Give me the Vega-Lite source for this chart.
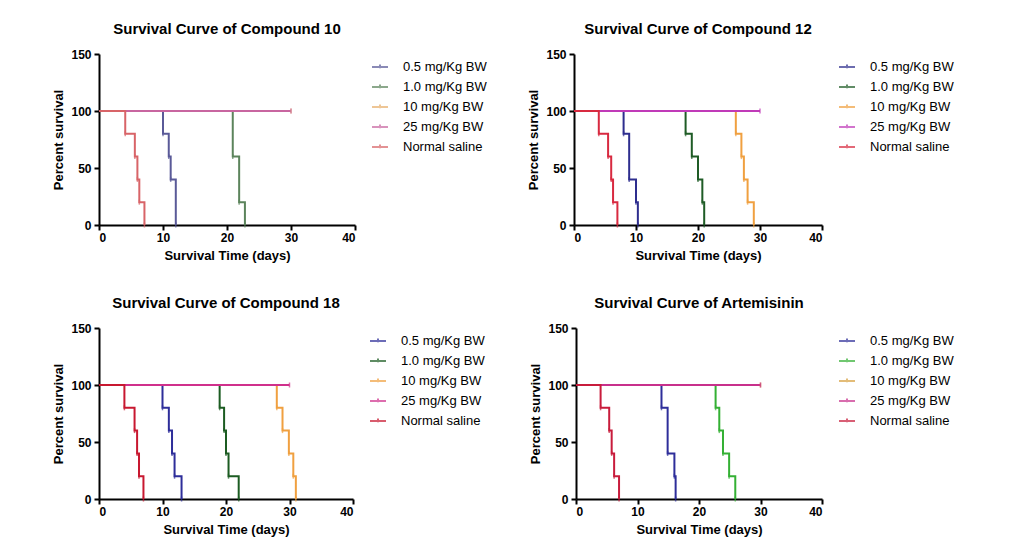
{
  "$schema": "https://vega.github.io/schema/vega-lite/v6.json",
  "background": "white",
  "padding": {"left": 52, "top": 22, "right": 5, "bottom": 5},
  "spacing": 34,
  "config": {
    "font": "Liberation Sans",
    "view": {"stroke": null},
    "title": {"fontSize": 15, "fontWeight": "bold", "color": "black", "anchor": "middle", "offset": 11},
    "axis": {"grid": false, "domainColor": "black", "domainWidth": 2, "tickColor": "black", "tickWidth": 2, "tickSize": 5,
             "labelFontSize": 12, "labelFontWeight": "bold", "labelColor": "black",
             "titleFontSize": 13, "titleFontWeight": "bold", "titleColor": "black"},
    "axisX": {"labelPadding": 2, "titlePadding": 6},
    "axisY": {"labelPadding": 3, "titlePadding": 5},
    "legend": {"orient": "right", "offset": 12, "padding": 4, "labelFontSize": 13, "labelColor": "black", "labelLimit": 200,
               "symbolType": "M-1,0H1M0,-0.3V0.15", "symbolSize": 256, "symbolStrokeWidth": 2, "rowPadding": 4, "labelOffset": 14}
  },
  "datasets": {
    "c10": [
      {"group": "0.5 mg/Kg BW", "day": 0, "pct": 100}, {"group": "0.5 mg/Kg BW", "day": 10, "pct": 80}, {"group": "0.5 mg/Kg BW", "day": 10.9, "pct": 60}, {"group": "0.5 mg/Kg BW", "day": 11.2, "pct": 40}, {"group": "0.5 mg/Kg BW", "day": 12, "pct": 0},
      {"group": "1.0 mg/Kg BW", "day": 0, "pct": 100}, {"group": "1.0 mg/Kg BW", "day": 20.9, "pct": 60}, {"group": "1.0 mg/Kg BW", "day": 21.9, "pct": 20}, {"group": "1.0 mg/Kg BW", "day": 22.8, "pct": 0},
      {"group": "10 mg/Kg BW", "day": 0, "pct": 100}, {"group": "10 mg/Kg BW", "day": 30, "pct": 100},
      {"group": "25 mg/Kg BW", "day": 0, "pct": 100}, {"group": "25 mg/Kg BW", "day": 30, "pct": 100},
      {"group": "Normal saline", "day": 0, "pct": 100}, {"group": "Normal saline", "day": 4.1, "pct": 80}, {"group": "Normal saline", "day": 5.6, "pct": 60}, {"group": "Normal saline", "day": 6, "pct": 40}, {"group": "Normal saline", "day": 6.3, "pct": 20}, {"group": "Normal saline", "day": 7.1, "pct": 0}
    ],
    "c12": [
      {"group": "0.5 mg/Kg BW", "day": 0, "pct": 100}, {"group": "0.5 mg/Kg BW", "day": 8, "pct": 80}, {"group": "0.5 mg/Kg BW", "day": 8.9, "pct": 40}, {"group": "0.5 mg/Kg BW", "day": 10, "pct": 20}, {"group": "0.5 mg/Kg BW", "day": 10.3, "pct": 0},
      {"group": "1.0 mg/Kg BW", "day": 0, "pct": 100}, {"group": "1.0 mg/Kg BW", "day": 18, "pct": 80}, {"group": "1.0 mg/Kg BW", "day": 19, "pct": 60}, {"group": "1.0 mg/Kg BW", "day": 20, "pct": 40}, {"group": "1.0 mg/Kg BW", "day": 20.7, "pct": 20}, {"group": "1.0 mg/Kg BW", "day": 21, "pct": 0},
      {"group": "10 mg/Kg BW", "day": 0, "pct": 100}, {"group": "10 mg/Kg BW", "day": 26.1, "pct": 80}, {"group": "10 mg/Kg BW", "day": 27, "pct": 60}, {"group": "10 mg/Kg BW", "day": 27.4, "pct": 40}, {"group": "10 mg/Kg BW", "day": 28, "pct": 20}, {"group": "10 mg/Kg BW", "day": 29, "pct": 0},
      {"group": "25 mg/Kg BW", "day": 0, "pct": 100}, {"group": "25 mg/Kg BW", "day": 30, "pct": 100},
      {"group": "Normal saline", "day": 0, "pct": 100}, {"group": "Normal saline", "day": 4, "pct": 80}, {"group": "Normal saline", "day": 5.5, "pct": 60}, {"group": "Normal saline", "day": 6, "pct": 40}, {"group": "Normal saline", "day": 6.3, "pct": 20}, {"group": "Normal saline", "day": 7, "pct": 0}
    ],
    "c18": [
      {"group": "0.5 mg/Kg BW", "day": 0, "pct": 100}, {"group": "0.5 mg/Kg BW", "day": 10, "pct": 80}, {"group": "0.5 mg/Kg BW", "day": 11, "pct": 60}, {"group": "0.5 mg/Kg BW", "day": 11.5, "pct": 40}, {"group": "0.5 mg/Kg BW", "day": 11.9, "pct": 20}, {"group": "0.5 mg/Kg BW", "day": 13, "pct": 0},
      {"group": "1.0 mg/Kg BW", "day": 0, "pct": 100}, {"group": "1.0 mg/Kg BW", "day": 19, "pct": 80}, {"group": "1.0 mg/Kg BW", "day": 19.7, "pct": 60}, {"group": "1.0 mg/Kg BW", "day": 20, "pct": 40}, {"group": "1.0 mg/Kg BW", "day": 20.4, "pct": 20}, {"group": "1.0 mg/Kg BW", "day": 22, "pct": 0},
      {"group": "10 mg/Kg BW", "day": 0, "pct": 100}, {"group": "10 mg/Kg BW", "day": 28, "pct": 80}, {"group": "10 mg/Kg BW", "day": 28.9, "pct": 60}, {"group": "10 mg/Kg BW", "day": 29.9, "pct": 40}, {"group": "10 mg/Kg BW", "day": 30.6, "pct": 20}, {"group": "10 mg/Kg BW", "day": 31, "pct": 0},
      {"group": "25 mg/Kg BW", "day": 0, "pct": 100}, {"group": "25 mg/Kg BW", "day": 30, "pct": 100},
      {"group": "Normal saline", "day": 0, "pct": 100}, {"group": "Normal saline", "day": 4, "pct": 80}, {"group": "Normal saline", "day": 5.6, "pct": 60}, {"group": "Normal saline", "day": 6, "pct": 40}, {"group": "Normal saline", "day": 6.3, "pct": 20}, {"group": "Normal saline", "day": 7, "pct": 0}
    ],
    "art": [
      {"group": "0.5 mg/Kg BW", "day": 0, "pct": 100}, {"group": "0.5 mg/Kg BW", "day": 13.9, "pct": 80}, {"group": "0.5 mg/Kg BW", "day": 14.9, "pct": 40}, {"group": "0.5 mg/Kg BW", "day": 16, "pct": 20}, {"group": "0.5 mg/Kg BW", "day": 16.2, "pct": 0},
      {"group": "1.0 mg/Kg BW", "day": 0, "pct": 100}, {"group": "1.0 mg/Kg BW", "day": 22.7, "pct": 80}, {"group": "1.0 mg/Kg BW", "day": 23.3, "pct": 60}, {"group": "1.0 mg/Kg BW", "day": 23.9, "pct": 40}, {"group": "1.0 mg/Kg BW", "day": 24.9, "pct": 20}, {"group": "1.0 mg/Kg BW", "day": 25.9, "pct": 0},
      {"group": "10 mg/Kg BW", "day": 0, "pct": 100}, {"group": "10 mg/Kg BW", "day": 30, "pct": 100},
      {"group": "25 mg/Kg BW", "day": 0, "pct": 100}, {"group": "25 mg/Kg BW", "day": 30, "pct": 100},
      {"group": "Normal saline", "day": 0, "pct": 100}, {"group": "Normal saline", "day": 4, "pct": 80}, {"group": "Normal saline", "day": 5.4, "pct": 60}, {"group": "Normal saline", "day": 5.8, "pct": 40}, {"group": "Normal saline", "day": 6.2, "pct": 20}, {"group": "Normal saline", "day": 7, "pct": 0}
    ]
  },
  "resolve": {"scale": {"color": "independent"}, "legend": {"color": "independent"}},
  "vconcat": [
    {
      "spacing": 36,
      "resolve": {"scale": {"color": "independent"}, "legend": {"color": "independent"}},
      "hconcat": [
        {
          "title": "Survival Curve of Compound 10",
          "width": 256, "height": 171,
          "data": {"name": "c10"},
          "encoding": {
            "x": {"field": "day", "type": "quantitative", "title": "Survival Time (days)", "scale": {"domain": [0, 40], "nice": false}, "axis": {"values": [0, 10, 20, 30, 40]}},
            "y": {"field": "pct", "type": "quantitative", "title": "Percent survival", "scale": {"domain": [0, 150], "nice": false}, "axis": {"values": [0, 50, 100, 150]}},
            "color": {"field": "group", "type": "nominal", "title": null,
                      "scale": {"domain": ["0.5 mg/Kg BW", "1.0 mg/Kg BW", "10 mg/Kg BW", "25 mg/Kg BW", "Normal saline"],
                                "range": ["#5a5a98", "#5c845c", "#e8ae6a", "#c866a0", "#d86468"]}}
          },
          "layer": [
            {"mark": {"type": "line", "interpolate": "step-after", "strokeWidth": 2}},
            {"transform": [{"filter": "datum.day > 0"}], "mark": {"type": "tick", "orient": "vertical", "size": 5, "thickness": 1.5, "color": "#444"}}
          ]
        },
        {
          "title": "Survival Curve of Compound 12",
          "width": 248, "height": 171,
          "data": {"name": "c12"},
          "encoding": {
            "x": {"field": "day", "type": "quantitative", "title": "Survival Time (days)", "scale": {"domain": [0, 40], "nice": false}, "axis": {"values": [0, 10, 20, 30, 40]}},
            "y": {"field": "pct", "type": "quantitative", "title": "Percent survival", "scale": {"domain": [0, 150], "nice": false}, "axis": {"values": [0, 50, 100, 150]}},
            "color": {"field": "group", "type": "nominal", "title": null,
                      "scale": {"domain": ["0.5 mg/Kg BW", "1.0 mg/Kg BW", "10 mg/Kg BW", "25 mg/Kg BW", "Normal saline"],
                                "range": ["#2e2e8e", "#1f5c26", "#f0a040", "#c03ab8", "#d82a40"]}}
          },
          "layer": [
            {"mark": {"type": "line", "interpolate": "step-after", "strokeWidth": 2}},
            {"transform": [{"filter": "datum.day > 0"}], "mark": {"type": "tick", "orient": "vertical", "size": 5, "thickness": 1.5, "color": "#333"}}
          ]
        }
      ]
    },
    {
      "spacing": 40,
      "resolve": {"scale": {"color": "independent"}, "legend": {"color": "independent"}},
      "hconcat": [
        {
          "title": "Survival Curve of Compound 18",
          "width": 254, "height": 171,
          "data": {"name": "c18"},
          "encoding": {
            "x": {"field": "day", "type": "quantitative", "title": "Survival Time (days)", "scale": {"domain": [0, 40], "nice": false}, "axis": {"values": [0, 10, 20, 30, 40]}},
            "y": {"field": "pct", "type": "quantitative", "title": "Percent survival", "scale": {"domain": [0, 150], "nice": false}, "axis": {"values": [0, 50, 100, 150]}},
            "color": {"field": "group", "type": "nominal", "title": null,
                      "scale": {"domain": ["0.5 mg/Kg BW", "1.0 mg/Kg BW", "10 mg/Kg BW", "25 mg/Kg BW", "Normal saline"],
                                "range": ["#2e2e9a", "#1c5c22", "#f0a040", "#d0308c", "#c81830"]}}
          },
          "layer": [
            {"mark": {"type": "line", "interpolate": "step-after", "strokeWidth": 2}},
            {"transform": [{"filter": "datum.day > 0"}], "mark": {"type": "tick", "orient": "vertical", "size": 5, "thickness": 1.5, "color": "#333"}}
          ]
        },
        {
          "title": "Survival Curve of Artemisinin",
          "width": 246, "height": 171,
          "data": {"name": "art"},
          "encoding": {
            "x": {"field": "day", "type": "quantitative", "title": "Survival Time (days)", "scale": {"domain": [0, 40], "nice": false}, "axis": {"values": [0, 10, 20, 30, 40]}},
            "y": {"field": "pct", "type": "quantitative", "title": "Percent survival", "scale": {"domain": [0, 150], "nice": false}, "axis": {"values": [0, 50, 100, 150]}},
            "color": {"field": "group", "type": "nominal", "title": null,
                      "scale": {"domain": ["0.5 mg/Kg BW", "1.0 mg/Kg BW", "10 mg/Kg BW", "25 mg/Kg BW", "Normal saline"],
                                "range": ["#2e2e9a", "#34b034", "#d8a040", "#c8308c", "#c81c3c"]}}
          },
          "layer": [
            {"mark": {"type": "line", "interpolate": "step-after", "strokeWidth": 2}},
            {"transform": [{"filter": "datum.day > 0"}], "mark": {"type": "tick", "orient": "vertical", "size": 5, "thickness": 1.5, "color": "#333"}}
          ]
        }
      ]
    }
  ]
}
